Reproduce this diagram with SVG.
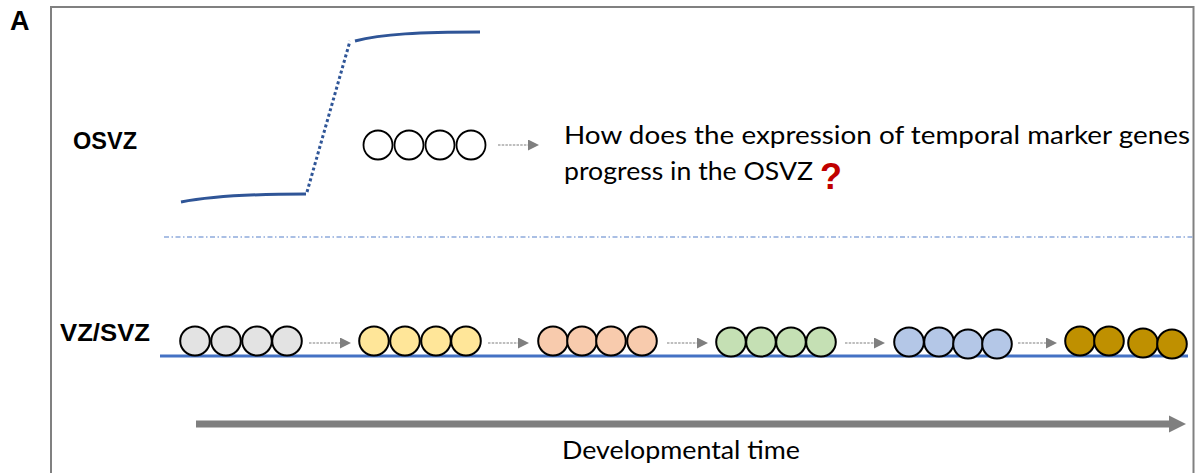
<svg xmlns="http://www.w3.org/2000/svg" width="1200" height="473" viewBox="0 0 1200 473">
  <defs>
    <marker id="tip" viewBox="0 0 10 10" refX="0" refY="5" markerWidth="12" markerHeight="11" markerUnits="userSpaceOnUse" orient="auto">
      <path d="M0,0 L10,5 L0,10 Z" fill="#7f7f7f"/>
    </marker>
    <marker id="bigtip" viewBox="0 0 10 10" refX="0" refY="5" markerWidth="17" markerHeight="20" markerUnits="userSpaceOnUse" orient="auto">
      <path d="M0,0 L10,5 L0,10 Z" fill="#7f7f7f"/>
    </marker>
  </defs>
  <style>
    .frame { fill: none; stroke: #808080; stroke-width: 2; }
    .bold { font-family: "Liberation Sans", Arial, sans-serif; font-weight: bold; fill: #000; }
    .body { font-family: Lato, "Open Sans", sans-serif; fill: #000; }
    .cell { stroke: #000; stroke-width: 2; }
    .open { fill: #fff; stroke: #000; stroke-width: 1.8; }
    .step { stroke: #7f7f7f; stroke-width: 1.2; stroke-dasharray: 2.5 1.2; fill: none; }
    .curve { fill: none; stroke: #2f5597; stroke-width: 3; }
    .g0 { fill: #e3e3e3; }
    .g1 { fill: #ffe699; }
    .g2 { fill: #f8cbad; }
    .g3 { fill: #c5e0b4; }
    .g4 { fill: #b4c7e7; }
    .g5 { fill: #bf9000; }
  </style>

  <rect width="1200" height="473" fill="#fff"/>
  <rect class="frame" x="51" y="7" width="1142.5" height="480"/>
  <text class="bold" x="10" y="30" font-size="27">A</text>

  <!-- expression curve -->
  <g id="expression-curve">
    <path class="curve" d="M181,202 C212,196 250,194 306,194"/>
    <path class="curve" d="M307,192 L350,41" stroke-dasharray="3 2.6"/>
    <path class="curve" d="M355,41 C382,34 420,32 480,32"/>
  </g>

  <!-- outer subventricular zone -->
  <g id="osvz-label">
    <text class="bold" x="73" y="149" font-size="23.5">OSVZ</text>
  </g>
  <g id="osvz-cells">
    <circle class="open" cx="378" cy="145" r="14.5"/>
    <circle class="open" cx="409" cy="145" r="14.5"/>
    <circle class="open" cx="440" cy="145" r="14.5"/>
    <circle class="open" cx="471" cy="145" r="14.5"/>
  </g>
  <g id="osvz-question">
    <text class="body" font-size="25">
      <tspan x="564" y="144" textLength="626" lengthAdjust="spacingAndGlyphs">How does the expression  of temporal marker genes</tspan>
      <tspan x="564" y="180" textLength="249" lengthAdjust="spacingAndGlyphs">progress in the OSVZ</tspan>
    </text>
    <text x="820" y="189" font-family="Liberation Sans, Arial, sans-serif" font-weight="bold" font-size="36" fill="#c00000">?</text>
  </g>

  <!-- zone divider -->
  <line x1="164" y1="237" x2="1193" y2="237" stroke="#8faadc" stroke-width="1.4" stroke-dasharray="5 2.5 1.5 2.5"/>

  <!-- ventricular / subventricular zone -->
  <g id="vz-svz-label">
    <text class="bold" x="60" y="341" font-size="23" textLength="90" lengthAdjust="spacingAndGlyphs">VZ/SVZ</text>
  </g>
  <line x1="160" y1="356" x2="1188" y2="356" stroke="#4472c4" stroke-width="3"/>

  <g id="cells-1">
    <ellipse class="cell g0" cx="195" cy="341" rx="14.8" ry="14.5"/>
    <ellipse class="cell g0" cx="226" cy="341" rx="14.8" ry="14.5"/>
    <ellipse class="cell g0" cx="257" cy="341" rx="14.8" ry="14.5"/>
    <ellipse class="cell g0" cx="287" cy="341" rx="14.8" ry="14.5"/>
  </g>
  <g id="cells-2">
    <ellipse class="cell g1" cx="374" cy="341" rx="14.8" ry="14.5"/>
    <ellipse class="cell g1" cx="405" cy="341" rx="14.8" ry="14.5"/>
    <ellipse class="cell g1" cx="436" cy="341" rx="14.8" ry="14.5"/>
    <ellipse class="cell g1" cx="466" cy="341" rx="14.8" ry="14.5"/>
  </g>
  <g id="cells-3">
    <ellipse class="cell g2" cx="553" cy="341" rx="14.8" ry="14.5"/>
    <ellipse class="cell g2" cx="582" cy="341" rx="14.8" ry="14.5"/>
    <ellipse class="cell g2" cx="611" cy="341" rx="14.8" ry="14.5"/>
    <ellipse class="cell g2" cx="642" cy="341" rx="14.8" ry="14.5"/>
  </g>
  <g id="cells-4">
    <ellipse class="cell g3" cx="731" cy="342" rx="14.8" ry="14.5"/>
    <ellipse class="cell g3" cx="761" cy="342" rx="14.8" ry="14.5"/>
    <ellipse class="cell g3" cx="791" cy="342" rx="14.8" ry="14.5"/>
    <ellipse class="cell g3" cx="821" cy="342" rx="14.8" ry="14.5"/>
  </g>
  <g id="cells-5">
    <ellipse class="cell g4" cx="909" cy="342" rx="14.8" ry="14.5"/>
    <ellipse class="cell g4" cx="939" cy="342" rx="14.8" ry="14.5"/>
    <ellipse class="cell g4" cx="968" cy="344" rx="14.8" ry="14.5"/>
    <ellipse class="cell g4" cx="997" cy="344" rx="14.8" ry="14.5"/>
  </g>
  <g id="cells-6">
    <ellipse class="cell g5" cx="1080" cy="341" rx="14.8" ry="14.5"/>
    <ellipse class="cell g5" cx="1109" cy="341" rx="14.8" ry="14.5"/>
    <ellipse class="cell g5" cx="1143" cy="343" rx="14.8" ry="14.5"/>
    <ellipse class="cell g5" cx="1172" cy="344" rx="14.8" ry="14.5"/>
  </g>

  <!-- progression arrows -->
  <g id="connectors">
    <line class="step" x1="498" y1="145" x2="528" y2="145" marker-end="url(#tip)"/>
    <line class="step" x1="309" y1="343" x2="340" y2="343" marker-end="url(#tip)"/>
    <line class="step" x1="488" y1="343" x2="518" y2="343" marker-end="url(#tip)"/>
    <line class="step" x1="667" y1="343" x2="697" y2="343" marker-end="url(#tip)"/>
    <line class="step" x1="845" y1="343" x2="874" y2="343" marker-end="url(#tip)"/>
    <line class="step" x1="1018" y1="343" x2="1046" y2="343" marker-end="url(#tip)"/>
  </g>

  <!-- time axis -->
  <g id="time-axis">
    <line x1="196" y1="424" x2="1169" y2="424" stroke="#7f7f7f" stroke-width="7" marker-end="url(#bigtip)"/>
    <text class="body" x="681" y="459" font-size="25" text-anchor="middle" textLength="238" lengthAdjust="spacingAndGlyphs">Developmental time</text>
  </g>
</svg>
